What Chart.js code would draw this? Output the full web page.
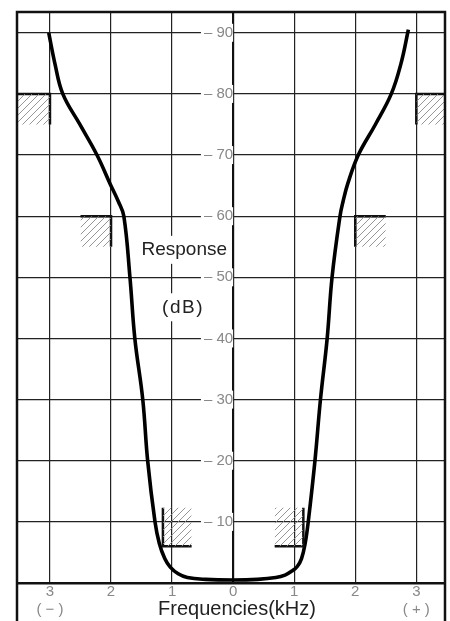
<!DOCTYPE html>
<html lang="en">
<head>
  <meta charset="UTF-8">
  <title>Response vs Frequency</title>
  <script src="https://cdn.jsdelivr.net/npm/chart.js"></script>
  <style>
    html, body {
      margin: 0;
      padding: 0;
      background: #fff;
    }
    .wrap {
      width: 450px;
      height: 621px;
    }
  </style>
</head>
<body>
  <div class="wrap"><canvas id="chart"></canvas></div>

  <script>
    // response curve (kHz, dB)
    const freqKHz = [-3.02, -2.92, -2.79, -2.51, -2.23, -2.02, -1.88, -1.79, -1.69, -1.61, -1.48, -1.40,
      -1.28, -1.21, -1.12, -1.03, -0.90, -0.75, -0.45, 0, 0.40, 0.70, 0.85, 0.97, 1.05, 1.12, 1.18, 1.23,
      1.34, 1.43, 1.54, 1.62, 1.75, 1.80, 1.88, 2.05, 2.33, 2.59, 2.75, 2.87];
    const responseDb = [90, 85, 80, 75, 70, 65.4, 62.4, 60, 50, 40, 30, 20,
      10, 6.5, 4, 2.6, 1.5, 0.9, 0.6, 0.5, 0.6, 0.9, 1.3, 2.0, 2.7, 4, 6.5, 10,
      20, 30, 40, 50, 60, 62.4, 65.4, 70, 75, 80, 85, 90.5];

    const xTickValues = [-3, -2, -1, 0, 1, 2, 3];
    const xTickLabels = [['3', '( − )'], '2', '1', '0', '1', '2', ['3', '( + )']];
    const yTickValues = [10, 20, 30, 40, 50, 60, 70, 80, 90];

    // limit masks, the two solid edges of each hatched box
    const maskEdges = [
      [[-3.54, 80], [-3, 80], [-3, 75]],
      [[-2.5, 60], [-2, 60], [-2, 55]],
      [[-1.15, 12.3], [-1.15, 6], [-0.68, 6]],
      [[0.68, 6], [1.15, 6], [1.15, 12.3]],
      [[2.5, 60], [2, 60], [2, 55]],
      [[3.47, 80], [3, 80], [3, 75]]
    ];

    function hatchPattern() {
      const c = document.createElement('canvas');
      c.width = 7; c.height = 7;
      const g = c.getContext('2d');
      g.strokeStyle = '#8a8a8a';
      g.lineWidth = 0.9;
      g.beginPath();
      g.moveTo(0, 7); g.lineTo(7, 0);
      g.moveTo(-1, 1); g.lineTo(1, -1);
      g.moveTo(6, 8); g.lineTo(8, 6);
      g.stroke();
      return g.createPattern(c, 'repeat');
    }

    const hatch = hatchPattern();
    const datasets = [];

    maskEdges.forEach(pts => {
      const xs = pts.map(p => p[0]);
      const ys = pts.map(p => p[1]);
      const lo = Math.min(...ys), hi = Math.max(...ys);
      datasets.push({
        data: [{ x: Math.min(...xs), y: hi }, { x: Math.max(...xs), y: hi }],
        fill: { value: lo },
        backgroundColor: hatch,
        borderColor: 'rgba(0,0,0,0)',
        borderWidth: 0,
        pointRadius: 0
      });
      datasets.push({
        data: pts.map(p => ({ x: p[0], y: p[1] })),
        borderColor: '#111',
        borderWidth: 2.5,
        pointRadius: 0,
        fill: false,
        tension: 0
      });
    });

    datasets.push({
      data: freqKHz.map((f, i) => ({ x: f, y: responseDb[i] })),
      borderColor: '#000',
      borderWidth: 3.6,
      pointRadius: 0,
      fill: false,
      tension: 0.4
    });

    const framePlugin = {
      id: 'frame',
      beforeDatasetsDraw(chart) {
        const { ctx, scales: { x, y } } = chart;
        ctx.save();
        ctx.font = '19px "Liberation Sans", Arial, sans-serif';
        ctx.textAlign = 'center';
        ctx.textBaseline = 'middle';
        [['Response', -0.8, 54.5, 0], ['(dB)', -0.82, 45.1, 1.5]].forEach(([t, fx, dy, sp]) => {
          ctx.letterSpacing = sp + 'px';
          const px = x.getPixelForValue(fx), py = y.getPixelForValue(dy);
          const w = ctx.measureText(t).width;
          ctx.fillStyle = '#fff';
          ctx.fillRect(px - w / 2 - 3, py - 14, w + 6, 28);
          ctx.fillStyle = '#222';
          ctx.fillText(t, px, py);
        });
        ctx.restore();
      },
      afterDraw(chart) {
        const { ctx, chartArea: a } = chart;
        ctx.save();
        ctx.strokeStyle = '#111';
        ctx.lineWidth = 2.5;
        ctx.beginPath();
        ctx.moveTo(a.left, chart.height);
        ctx.lineTo(a.left, a.top);
        ctx.lineTo(a.right, a.top);
        ctx.lineTo(a.right, chart.height);
        ctx.stroke();

        ctx.font = '20px "Liberation Sans", Arial, sans-serif';
        ctx.fillStyle = '#222';
        ctx.textAlign = 'center';
        ctx.textBaseline = 'middle';
        ctx.fillText('Frequencies(kHz)', (a.left + a.right) / 2 + 6, a.bottom + 26);
        ctx.restore();
      }
    };

    new Chart(document.getElementById('chart'), {
      type: 'line',
      data: { datasets: datasets },
      options: {
        responsive: true,
        maintainAspectRatio: false,
        animation: false,
        layout: { padding: { top: 8, left: 17, right: 5, bottom: 0 } },
        plugins: {
          legend: { display: false },
          tooltip: { enabled: false }
        },
        scales: {
          x: {
            type: 'linear',
            min: -3.54,
            max: 3.47,
            afterBuildTicks: s => { s.ticks = xTickValues.map(v => ({ value: v })); },
            afterFit: s => { s.height = 38; },
            ticks: {
              callback: (v, i) => xTickLabels[i],
              color: '#888',
              font: { size: 15, family: '"Liberation Sans", Arial, sans-serif' },
              padding: 0,
              maxRotation: 0,
              autoSkip: false
            },
            grid: { color: '#222', lineWidth: 1.2, drawTicks: false },
            border: { color: '#111', width: 2.5 }
          },
          y: {
            type: 'linear',
            min: 0,
            max: 93.4,
            position: { x: 0 },
            afterBuildTicks: s => { s.ticks = yTickValues.map(v => ({ value: v })); },
            ticks: {
              callback: v => '– ' + v,
              color: '#888',
              font: { size: 15, family: '"Liberation Sans", Arial, sans-serif' },
              padding: 3,
              showLabelBackdrop: true,
              backdropColor: '#fff',
              backdropPadding: { left: 3, right: 0, top: 0, bottom: 0 }
            },
            grid: { color: '#222', lineWidth: 1.2, drawTicks: false },
            border: { color: '#111', width: 2 }
          }
        }
      },
      plugins: [framePlugin]
    });
  </script>
</body>
</html>
